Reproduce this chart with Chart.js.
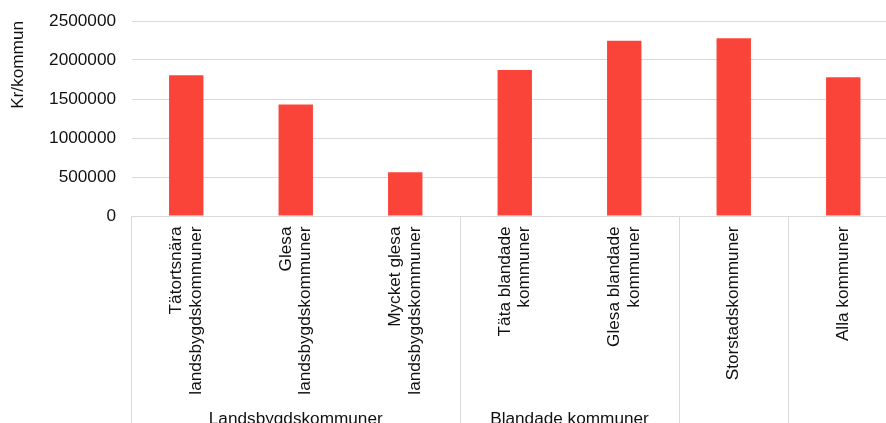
<!DOCTYPE html>
<html>
<head>
<meta charset="utf-8">
<script src="https://cdn.jsdelivr.net/npm/chart.js@4.4.1/dist/chart.umd.min.js"></script>
<style>
  html, body { margin: 0; padding: 0; background: #fff; overflow: hidden; }
  #wrap { width: 900px; height: 440px; }
</style>
</head>
<body>
<div id="wrap"><canvas id="c" width="900" height="440"></canvas></div>
<script>
// Kommungrupper (kategorier) och värden i kr per kommun
const categories = [
  ['Tätortsnära', 'landsbygdskommuner'],
  ['Glesa', 'landsbygdskommuner'],
  ['Mycket glesa', 'landsbygdskommuner'],
  ['Täta blandade', 'kommuner'],
  ['Glesa blandade', 'kommuner'],
  'Storstadskommuner',
  'Alla kommuner'
];
const kronorPerKommun = [1805000, 1428000, 562000, 1872000, 2247000, 2280000, 1780000];
const yTickLabels = ['0', '500000', '1000000', '1500000', '2000000', '2500000'];

// Överordnade grupper på kategoriaxeln
const groupNames = ['Landsbygdskommuner', 'Blandade kommuner'];
const groupStart = [0, 3];
const groupEnd = [2, 4];
const groupBoundaries = [0, 3, 5, 6, 7];

const FONT_FAMILY = '"Liberation Sans", Arial, sans-serif';
const FONT_SIZE = 17.2;
const TEXT_COLOR = '#111111';
const GRID_COLOR = '#D9D9D9';
const BAR_COLOR = '#FA443A';

// Centrerar flerradiga, roterade kategorietiketter kring sin kategori
const centerMultilineTicks = {
  id: 'centerMultilineTicks',
  beforeDraw(chart) {
    const items = chart.scales.x.getLabelItems();
    items.forEach((item) => {
      if (Array.isArray(item.label) && !item._centered) {
        item.textOffset -= (item.label.length - 1) * item.font.lineHeight / 2;
        item._centered = true;
      }
    });
  }
};

// Skriver gruppnamnen under kategorietiketterna
const groupLabels = {
  id: 'groupLabels',
  afterDraw(chart) {
    const x = chart.scales.x;
    const ctx = chart.ctx;
    ctx.save();
    ctx.font = FONT_SIZE + 'px ' + FONT_FAMILY;
    ctx.fillStyle = TEXT_COLOR;
    ctx.textAlign = 'center';
    ctx.textBaseline = 'alphabetic';
    groupNames.forEach((name, g) => {
      const cx = (x.getPixelForValue(groupStart[g]) + x.getPixelForValue(groupEnd[g])) / 2;
      ctx.fillText(name, cx, chart.chartArea.bottom + 208);
    });
    ctx.restore();
  }
};

const font = { family: FONT_FAMILY, size: FONT_SIZE };

new Chart(document.getElementById('c'), {
  type: 'bar',
  data: {
    labels: categories,
    datasets: [{
      data: kronorPerKommun,
      backgroundColor: BAR_COLOR,
      borderWidth: 0,
      barPercentage: 0.314,
      categoryPercentage: 1.0
    }]
  },
  options: {
    responsive: false,
    animation: false,
    devicePixelRatio: 1,
    layout: { padding: { top: 21, left: 0, right: 2, bottom: 0 } },
    plugins: {
      legend: { display: false },
      tooltip: { enabled: false }
    },
    scales: {
      x: {
        offset: true,
        afterFit(scale) { scale.height = 224; },
        grid: {
          offset: true,
          drawOnChartArea: false,
          drawTicks: true,
          tickLength: 230,
          lineWidth: 1,
          color: (ctx) => (ctx.type !== 'tick' || groupBoundaries.includes(ctx.index)) ? GRID_COLOR : 'rgba(0,0,0,0)'
        },
        border: { display: true, color: GRID_COLOR, width: 1 },
        ticks: {
          autoSkip: false,
          minRotation: 90,
          maxRotation: 90,
          padding: 10.5 - 230,
          color: TEXT_COLOR,
          font: { family: FONT_FAMILY, size: FONT_SIZE, lineHeight: 1.12 }
        }
      },
      y: {
        min: 0,
        max: 2500000,
        afterFit(scale) {
          scale.width = 131.5;
          scale.paddingTop = 0;
          scale.paddingBottom = 0;
        },
        grid: { color: GRID_COLOR, lineWidth: 1, drawTicks: false },
        border: { display: false },
        ticks: {
          stepSize: 500000,
          padding: 15.5,
          color: TEXT_COLOR,
          font: font,
          callback: (value, index) => yTickLabels[index]
        },
        title: {
          display: true,
          text: 'Kr/kommun',
          align: 'end',
          color: TEXT_COLOR,
          font: font,
          padding: { top: 8, bottom: 0 }
        }
      }
    }
  },
  plugins: [centerMultilineTicks, groupLabels]
});
</script>
</body>
</html>
